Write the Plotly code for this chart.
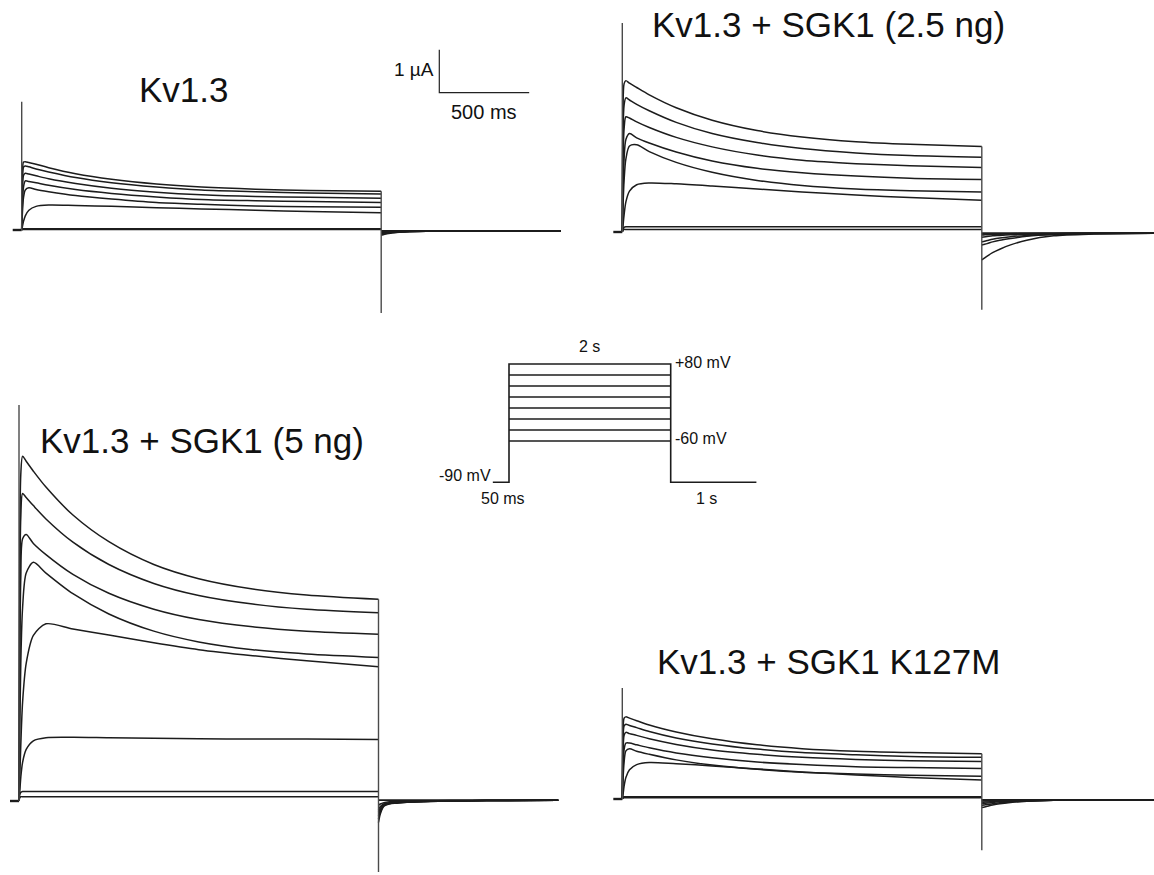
import plotly.graph_objects as go

# ---------------------------------------------------------------- data
# sample times during the 2-s depolarising step (ms)
T_STEP = [0, 4, 10, 20, 40, 80, 150, 300, 500, 750, 1000, 1300, 1600, 2000]
# sample times of the tail at -90 mV (ms after the end of the step)
T_TAIL = [0, 10, 30, 60, 100, 160, 250, 400, 600, 1000]
# pre-pulse holding segment (ms)
T_HOLD = [-50, 0]
STEP_END_MS = 2000

# currents (uA), one row per voltage step (+80 ... -60 mV)
KV13_STEP = [
    [0, 1.30, 1.58, 1.59, 1.57, 1.53, 1.45, 1.31, 1.18, 1.07, 1.00, 0.95, 0.92, 0.90],
    [0, 1.15, 1.46, 1.49, 1.47, 1.42, 1.35, 1.22, 1.10, 1.00, 0.93, 0.89, 0.86, 0.84],
    [0, 0.90, 1.27, 1.32, 1.30, 1.26, 1.19, 1.08, 0.97, 0.88, 0.82, 0.78, 0.76, 0.74],
    [0, 0.60, 1.00, 1.14, 1.13, 1.10, 1.04, 0.94, 0.85, 0.77, 0.71, 0.68, 0.66, 0.64],
    [0, 0.40, 0.75, 0.93, 0.98, 0.94, 0.89, 0.80, 0.72, 0.64, 0.60, 0.56, 0.54, 0.53],
    [0, 0.08, 0.20, 0.33, 0.46, 0.55, 0.58, 0.57, 0.55, 0.52, 0.49, 0.46, 0.43, 0.40],
    [0, 0.02, 0.03, 0.03, 0.03, 0.03, 0.03, 0.03, 0.03, 0.03, 0.03, 0.03, 0.03, 0.03],
    [0, 0.01, 0.01, 0.01, 0.01, 0.01, 0.01, 0.01, 0.01, 0.01, 0.01, 0.01, 0.01, 0.01],
]
KV13_TAIL = [
    [-0.12, -0.11, -0.09, -0.07, -0.05, -0.04, -0.03, -0.02, -0.02, -0.02],
    [-0.10, -0.09, -0.08, -0.06, -0.05, -0.04, -0.03, -0.02, -0.02, -0.02],
    [-0.08, -0.075, -0.065, -0.05, -0.04, -0.03, -0.025, -0.02, -0.02, -0.02],
    [-0.06, -0.055, -0.05, -0.04, -0.035, -0.03, -0.025, -0.02, -0.02, -0.02],
    [-0.05, -0.045, -0.04, -0.035, -0.03, -0.025, -0.02, -0.02, -0.02, -0.02],
    [-0.04, -0.035, -0.03, -0.03, -0.025, -0.02, -0.02, -0.02, -0.02, -0.02],
    [-0.02, -0.02, -0.02, -0.02, -0.02, -0.02, -0.02, -0.02, -0.02, -0.02],
    [-0.02, -0.02, -0.02, -0.02, -0.02, -0.02, -0.02, -0.02, -0.02, -0.02],
]
KV13_CAP = [2.98, -1.93]          # capacitive transients at step on / off (uA)

SGK25_STEP = [
    [0, 2.80, 3.45, 3.52, 3.46, 3.36, 3.19, 2.89, 2.60, 2.36, 2.21, 2.10, 2.04, 1.99],
    [0, 2.30, 2.95, 3.12, 3.07, 2.97, 2.82, 2.55, 2.29, 2.08, 1.94, 1.84, 1.78, 1.74],
    [0, 1.60, 2.40, 2.68, 2.65, 2.56, 2.43, 2.20, 1.98, 1.79, 1.67, 1.59, 1.54, 1.50],
    [0, 0.90, 1.70, 2.15, 2.29, 2.19, 2.07, 1.86, 1.65, 1.48, 1.38, 1.30, 1.25, 1.22],
    [0, 0.60, 1.20, 1.70, 2.00, 2.03, 1.87, 1.62, 1.39, 1.20, 1.08, 1.00, 0.96, 0.93],
    [0, 0.15, 0.40, 0.70, 0.95, 1.10, 1.14, 1.12, 1.07, 1.00, 0.93, 0.86, 0.80, 0.74],
    [0, 0.08, 0.11, 0.12, 0.12, 0.12, 0.12, 0.12, 0.12, 0.12, 0.12, 0.12, 0.12, 0.12],
    [0, 0.04, 0.06, 0.06, 0.06, 0.06, 0.06, 0.06, 0.06, 0.06, 0.06, 0.06, 0.06, 0.06],
]
SGK25_TAIL = [
    [-0.65, -0.62, -0.56, -0.48, -0.40, -0.30, -0.19, -0.09, -0.05, -0.03],
    [-0.30, -0.29, -0.27, -0.23, -0.19, -0.15, -0.10, -0.06, -0.04, -0.03],
    [-0.23, -0.22, -0.20, -0.17, -0.14, -0.11, -0.08, -0.05, -0.035, -0.03],
    [-0.12, -0.115, -0.105, -0.09, -0.08, -0.065, -0.05, -0.04, -0.03, -0.03],
    [-0.07, -0.068, -0.063, -0.058, -0.052, -0.045, -0.04, -0.035, -0.03, -0.03],
    [-0.05, -0.049, -0.047, -0.045, -0.042, -0.04, -0.035, -0.032, -0.03, -0.03],
    [-0.03, -0.03, -0.03, -0.03, -0.03, -0.03, -0.03, -0.03, -0.03, -0.03],
    [-0.03, -0.03, -0.03, -0.03, -0.03, -0.03, -0.03, -0.03, -0.03, -0.03],
]
SGK25_CAP = [4.86, -1.81]

SGK5_STEP = [
    [0, 5.50, 7.60, 8.02, 7.90, 7.67, 7.30, 6.65, 6.03, 5.50, 5.17, 4.93, 4.79, 4.69],
    [0, 4.50, 6.60, 7.15, 7.06, 6.87, 6.56, 6.02, 5.50, 5.06, 4.78, 4.58, 4.46, 4.38],
    [0, 3.00, 5.20, 6.10, 6.20, 5.99, 5.73, 5.27, 4.83, 4.46, 4.22, 4.05, 3.95, 3.88],
    [0, 1.50, 3.20, 4.50, 5.30, 5.55, 5.30, 4.82, 4.35, 3.95, 3.70, 3.52, 3.42, 3.34],
    [0, 0.50, 1.30, 2.30, 3.20, 3.85, 4.12, 4.00, 3.86, 3.68, 3.52, 3.38, 3.26, 3.12],
    [0, 0.20, 0.55, 0.90, 1.20, 1.40, 1.47, 1.48, 1.47, 1.46, 1.45, 1.44, 1.44, 1.43],
    [0, 0.15, 0.20, 0.22, 0.22, 0.22, 0.22, 0.22, 0.22, 0.22, 0.22, 0.22, 0.22, 0.22],
    [0, 0.07, 0.10, 0.10, 0.10, 0.10, 0.10, 0.10, 0.10, 0.10, 0.10, 0.10, 0.10, 0.10],
]
SGK5_TAIL = [
    [-0.50, -0.30, -0.12, -0.07, -0.05, -0.03, -0.01, 0.00, 0.01, 0.02],
    [-0.42, -0.26, -0.11, -0.06, -0.045, -0.03, -0.01, 0.00, 0.01, 0.02],
    [-0.34, -0.22, -0.10, -0.06, -0.04, -0.025, -0.01, 0.00, 0.01, 0.02],
    [-0.26, -0.17, -0.08, -0.05, -0.035, -0.02, -0.01, 0.00, 0.01, 0.02],
    [-0.20, -0.13, -0.07, -0.04, -0.03, -0.02, -0.01, 0.00, 0.01, 0.02],
    [-0.10, -0.07, -0.04, -0.02, -0.01, 0.00, 0.00, 0.01, 0.01, 0.02],
    [0.02, 0.02, 0.02, 0.02, 0.02, 0.02, 0.02, 0.02, 0.02, 0.02],
    [0.02, 0.02, 0.02, 0.02, 0.02, 0.02, 0.02, 0.02, 0.02, 0.02],
]
SGK5_CAP = [9.21, -1.65]

K127M_STEP = [
    [0, 1.50, 1.88, 1.91, 1.88, 1.82, 1.72, 1.56, 1.40, 1.26, 1.17, 1.11, 1.08, 1.05],
    [0, 1.30, 1.70, 1.74, 1.71, 1.66, 1.57, 1.42, 1.28, 1.16, 1.08, 1.03, 0.99, 0.97],
    [0, 1.00, 1.48, 1.55, 1.52, 1.48, 1.40, 1.27, 1.14, 1.04, 0.97, 0.92, 0.89, 0.87],
    [0, 0.70, 1.15, 1.30, 1.30, 1.26, 1.19, 1.07, 0.96, 0.86, 0.80, 0.75, 0.73, 0.71],
    [0, 0.45, 0.85, 1.12, 1.17, 1.11, 1.04, 0.91, 0.79, 0.69, 0.62, 0.58, 0.55, 0.53],
    [0, 0.10, 0.30, 0.50, 0.68, 0.80, 0.85, 0.82, 0.77, 0.70, 0.63, 0.56, 0.50, 0.44],
    [0, 0.04, 0.05, 0.05, 0.05, 0.05, 0.05, 0.05, 0.05, 0.05, 0.05, 0.05, 0.05, 0.05],
    [0, 0.02, 0.03, 0.03, 0.03, 0.03, 0.03, 0.03, 0.03, 0.03, 0.03, 0.03, 0.03, 0.03],
]
K127M_TAIL = [
    [-0.20, -0.19, -0.17, -0.14, -0.11, -0.08, -0.05, -0.03, -0.02, -0.02],
    [-0.15, -0.14, -0.13, -0.11, -0.09, -0.07, -0.05, -0.03, -0.02, -0.02],
    [-0.11, -0.105, -0.095, -0.08, -0.065, -0.05, -0.04, -0.03, -0.02, -0.02],
    [-0.08, -0.075, -0.07, -0.06, -0.05, -0.04, -0.03, -0.025, -0.02, -0.02],
    [-0.05, -0.048, -0.045, -0.04, -0.035, -0.03, -0.025, -0.02, -0.02, -0.02],
    [-0.03, -0.03, -0.028, -0.026, -0.024, -0.022, -0.02, -0.02, -0.02, -0.02],
    [-0.02, -0.02, -0.02, -0.02, -0.02, -0.02, -0.02, -0.02, -0.02, -0.02],
    [-0.02, -0.02, -0.02, -0.02, -0.02, -0.02, -0.02, -0.02, -0.02, -0.02],
]
K127M_CAP = [2.58, -1.19]

PANEL_TITLES = ["Kv1.3", "Kv1.3 + SGK1 (2.5 ng)", "Kv1.3 + SGK1 (5 ng)", "Kv1.3 + SGK1 K127M"]

# scale bar
SCALE_T_MS = 500
SCALE_I_UA = 1
SCALE_LABELS = ["1 \u00b5A", "500 ms"]

# voltage protocol (schematic)
PROTO_LEVELS_MV = [80, 60, 40, 20, 0, -20, -40, -60]
PROTO_HOLD_DRAWN_MV = -135          # -90 mV holding, drawn below the step family as in the schematic
PROTO_SEGMENTS_DRAWN_S = [0.2, 2.0, 1.06]   # pre-pulse (50 ms, drawn enlarged), step, tail
PROTO_LABELS = ["2 s", "+80 mV", "-60 mV", "-90 mV", "50 ms", "1 s"]

# ---------------------------------------------------------------- layout geometry
W, H = 1154, 875
SX = 359.5 / 2000.0   # px per ms
SY = 43.0             # px per uA
INK = "#1c1c1c"
CAP_INK = "#4a4a4a"
FONT = "Liberation Sans, Arial, Helvetica, sans-serif"
NARROW = "Liberation Sans Narrow, Arial Narrow, Liberation Sans, Arial, sans-serif"

# pixel placement: (x of step onset, y of holding level, box left, right, top, bottom)
PANEL_GEOM = [
    (21.7, 230.0, 0, 577, 0, 335),
    (622.3, 232.0, 577, 1154, 0, 335),
    (19.0, 801.0, 0, 577, 380, 875),
    (622.3, 799.0, 577, 1154, 560, 875),
]
TITLE_POS = [(137, 89), (650, 24), (38, 440), (655, 661)]

panels = [
    (KV13_STEP, KV13_TAIL, KV13_CAP),
    (SGK25_STEP, SGK25_TAIL, SGK25_CAP),
    (SGK5_STEP, SGK5_TAIL, SGK5_CAP),
    (K127M_STEP, K127M_TAIL, K127M_CAP),
]

fig = go.Figure()
layout_axes = {}


def add_axes(k, xl, xr, yt, yb, xrange, yrange):
    sfx = "" if k == 1 else str(k)
    layout_axes["xaxis" + sfx] = dict(domain=[xl / W, xr / W], range=xrange, visible=False,
                                       anchor="y" + sfx, fixedrange=True)
    layout_axes["yaxis" + sfx] = dict(domain=[1 - yb / H, 1 - yt / H], range=yrange, visible=False,
                                       anchor="x" + sfx, fixedrange=True)
    return "x" + sfx, "y" + sfx


for k, ((step, tail, cap), (x0, y0, xl, xr, yt, yb)) in enumerate(zip(panels, PANEL_GEOM), start=1):
    xa, ya = add_axes(k, xl, xr, yt, yb,
                      [(xl - x0) / SX, (xr - x0) / SX],
                      [(y0 - yb) / SY, (y0 - yt) / SY])
    tail_t = [STEP_END_MS + t for t in T_TAIL]
    # holding level before the step
    fig.add_trace(go.Scatter(x=T_HOLD, y=[0, 0], xaxis=xa, yaxis=ya, mode="lines",
                             line=dict(color=INK, width=2.4), hoverinfo="skip"))
    for row_s, row_t in zip(step, tail):
        fig.add_trace(go.Scatter(x=T_STEP, y=row_s, xaxis=xa, yaxis=ya, mode="lines",
                                 line=dict(color=INK, width=1.5, shape="spline", smoothing=0.8),
                                 hoverinfo="skip"))
        fig.add_trace(go.Scatter(x=tail_t, y=row_t, xaxis=xa, yaxis=ya, mode="lines",
                                 line=dict(color=INK, width=1.5, shape="spline", smoothing=0.8),
                                 hoverinfo="skip"))
    # capacitive transients at step onset and offset
    fig.add_trace(go.Scatter(x=[0, 0], y=[0, cap[0]], xaxis=xa, yaxis=ya, mode="lines",
                             line=dict(color=CAP_INK, width=1.4), hoverinfo="skip"))
    fig.add_trace(go.Scatter(x=[STEP_END_MS, STEP_END_MS], y=[step[0][-1], cap[1]], xaxis=xa, yaxis=ya,
                             mode="lines", line=dict(color=CAP_INK, width=1.4), hoverinfo="skip"))

# scale bar (in panel-1 units)
SB_T0 = (439.3 - PANEL_GEOM[0][0]) / SX
SB_I0 = (PANEL_GEOM[0][1] - 92.7) / SY
fig.add_trace(go.Scatter(x=[SB_T0, SB_T0, SB_T0 + SCALE_T_MS],
                         y=[SB_I0 + SCALE_I_UA, SB_I0, SB_I0],
                         xaxis="x", yaxis="y", mode="lines",
                         line=dict(color="#222", width=1.2), hoverinfo="skip"))

annotations = []
annotations.append(dict(x=SB_T0, y=SB_I0 + 0.53 * SCALE_I_UA, xref="x", yref="y", text=SCALE_LABELS[0],
                        showarrow=False, xanchor="right", yanchor="middle", xshift=-3,
                        font=dict(family=FONT, size=19, color="#111")))
annotations.append(dict(x=SB_T0 + SCALE_T_MS / 2, y=SB_I0 - 0.45, xref="x", yref="y", text=SCALE_LABELS[1],
                        showarrow=False, xanchor="center", yanchor="middle",
                        font=dict(family=FONT, size=20, color="#111")))

# panel titles
for title, (tx, ty) in zip(PANEL_TITLES, TITLE_POS):
    annotations.append(dict(x=tx / W, y=1 - ty / H, xref="paper", yref="paper", text=title,
                            showarrow=False, xanchor="left", yanchor="middle",
                            font=dict(family=FONT, size=35, color="#111")))

# voltage protocol (axis 5): x in s (schematic), y in mV
PX_PER_S = 80.85
PX_PER_MV = 0.55
PX0, PY0 = 509.0, 408.0   # pixel of (0 s, 0 mV)
pxl, pxr, pyt, pyb = 420, 800, 330, 515
xa5, ya5 = add_axes(5, pxl, pxr, pyt, pyb,
                    [(pxl - PX0) / PX_PER_S, (pxr - PX0) / PX_PER_S],
                    [(PY0 - pyb) / PX_PER_MV, (PY0 - pyt) / PX_PER_MV])
pre, dur, post = PROTO_SEGMENTS_DRAWN_S
hold = PROTO_HOLD_DRAWN_MV
top = PROTO_LEVELS_MV[0]
fig.add_trace(go.Scatter(x=[-pre, 0, 0, dur, dur, dur + post],
                         y=[hold, hold, top, top, hold, hold],
                         xaxis=xa5, yaxis=ya5, mode="lines",
                         line=dict(color=INK, width=1.6), hoverinfo="skip"))
for lv in PROTO_LEVELS_MV[1:]:
    fig.add_trace(go.Scatter(x=[0, dur], y=[lv, lv], xaxis=xa5, yaxis=ya5, mode="lines",
                             line=dict(color=INK, width=1.6), hoverinfo="skip"))

pfont = dict(family=NARROW, size=16, color="#111")
annotations += [
    dict(x=dur / 2, y=top + 31, text=PROTO_LABELS[0], xanchor="center", yanchor="middle"),
    dict(x=dur + 0.03, y=top + 2, text=PROTO_LABELS[1], xanchor="left", yanchor="middle"),
    dict(x=dur + 0.03, y=PROTO_LEVELS_MV[-1] + 5, text=PROTO_LABELS[2], xanchor="left", yanchor="middle"),
    dict(x=-pre, y=hold + 12, text=PROTO_LABELS[3], xanchor="right", yanchor="middle"),
    dict(x=-pre / 2 + 0.02, y=hold - 30, text=PROTO_LABELS[4], xanchor="center", yanchor="middle"),
    dict(x=dur + post * 0.42, y=hold - 30, text=PROTO_LABELS[5], xanchor="center", yanchor="middle"),
]
for a in annotations[-6:]:
    a.update(xref=xa5, yref=ya5, showarrow=False, font=pfont)

fig.update_layout(
    width=W, height=H, margin=dict(l=0, r=0, t=0, b=0),
    paper_bgcolor="white", plot_bgcolor="rgba(0,0,0,0)",
    showlegend=False, annotations=annotations, **layout_axes,
)

fig.write_html("out.html", config={"displayModeBar": False},
               post_script="document.body.style.margin='0';document.body.style.overflow='hidden';")
